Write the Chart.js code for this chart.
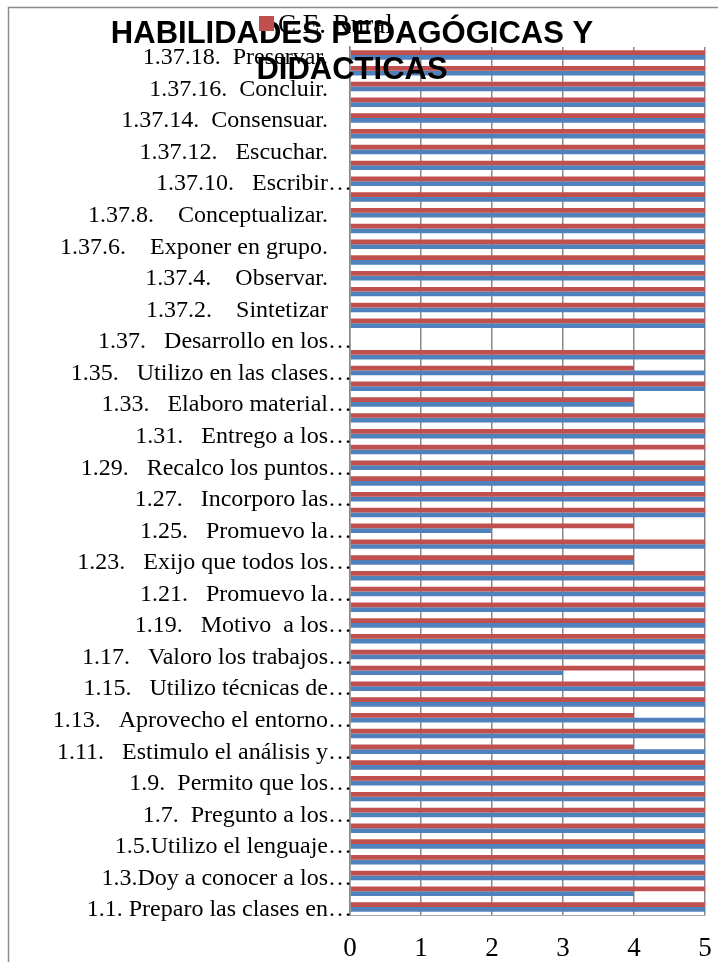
<!DOCTYPE html>
<html>
<head>
<meta charset="utf-8">
<script src="https://cdn.jsdelivr.net/npm/chart.js@4"></script>
<style>
  html, body { margin: 0; padding: 0; background: #fff; }
  #wrap { width: 718px; height: 962px; position: relative; }
</style>
</head>
<body>
<div id="wrap"><canvas id="chart"></canvas></div>
<script>
// categories, bottom (1.1) to top (1.37.18); only every other one is labelled in the chart
const categories = [
  '1.1. Preparo las clases en…', '1.2.',
  '1.3.Doy a conocer a los…', '1.4.',
  '1.5.Utilizo el lenguaje…', '1.6.',
  '1.7.  Pregunto a los…', '1.8.',
  '1.9.  Permito que los…', '1.10.',
  '1.11.   Estimulo el análisis y…', '1.12.',
  '1.13.   Aprovecho el entorno…', '1.14.',
  '1.15.   Utilizo técnicas de…', '1.16.',
  '1.17.   Valoro los trabajos…', '1.18.',
  '1.19.   Motivo  a los…', '1.20.',
  '1.21.   Promuevo la…', '1.22.',
  '1.23.   Exijo que todos los…', '1.24.',
  '1.25.   Promuevo la…', '1.26.',
  '1.27.   Incorporo las…', '1.28.',
  '1.29.   Recalco los puntos…', '1.30.',
  '1.31.   Entrego a los…', '1.32.',
  '1.33.   Elaboro material…', '1.34.',
  '1.35.   Utilizo en las clases…', '1.36.',
  '1.37.   Desarrollo en los…', '1.37.1.',
  '1.37.2.    Sintetizar', '1.37.3.',
  '1.37.4.    Observar.', '1.37.5.',
  '1.37.6.    Exponer en grupo.', '1.37.7.',
  '1.37.8.    Conceptualizar.', '1.37.9.',
  '1.37.10.   Escribir…', '1.37.11.',
  '1.37.12.   Escuchar.', '1.37.13.',
  '1.37.14.  Consensuar.', '1.37.15.',
  '1.37.16.  Concluir.', '1.37.17.',
  '1.37.18.  Preservar.'
];

const rural = [
  5, 5, 5, 5, 5, 5, 5, 5, 5, 5,
  4, 5, 4, 5, 5, 5, 5, 5, 5, 5,
  5, 5, 4, 5, 4, 5, 5, 5, 5, 5,
  5, 5, 4, 5, 4, 5, null,
  5, 5, 5, 5, 5, 5, 5, 5, 5, 5, 5, 5, 5, 5, 5, 5, 5, 5
];

const urbano = [
  5, 4, 5, 5, 5, 5, 5, 5, 5, 5,
  5, 5, 5, 5, 5, 3, 5, 5, 5, 5,
  5, 5, 4, 5, 2, 5, 5, 5, 5, 4,
  5, 5, 4, 5, 5, 5, null,
  5, 5, 5, 5, 5, 5, 5, 5, 5, 5, 5, 5, 5, 5, 5, 5, 5, 5
];

const xTicks = [0, 1, 2, 3, 4, 5];
const chartTitle = ['HABILIDADES PEDAGÓGICAS Y', 'DIDACTICAS'];

// title and legend sit on top of the plot, so they are drawn by hand
const decorPlugin = {
  id: 'decor',
  beforeDraw(chart) {
    const ctx = chart.ctx;
    ctx.save();
    ctx.strokeStyle = '#8c8c8c';
    ctx.lineWidth = 1.5;
    ctx.strokeRect(8.5, 7.5, 730, 1000);
    ctx.restore();
  },
  afterDraw(chart) {
    const ctx = chart.ctx;
    const ds = chart.data.datasets[0];
    ctx.save();
    ctx.fillStyle = '#000';
    ctx.font = 'bold 31px "Liberation Sans"';
    ctx.textAlign = 'center';
    ctx.textBaseline = 'alphabetic';
    ctx.fillText(chartTitle[0], 352, 43);
    ctx.fillText(chartTitle[1], 352, 79);

    ctx.fillStyle = ds.backgroundColor;
    ctx.fillRect(259, 16, 15, 15);
    ctx.fillStyle = '#000';
    ctx.font = '27px "Liberation Serif"';
    ctx.textAlign = 'left';
    ctx.fillText(ds.label, 278, 33);
    ctx.restore();
  }
};

const ctx = document.getElementById('chart').getContext('2d');
new Chart(ctx, {
  type: 'bar',
  data: {
    labels: categories,
    datasets: [
      {
        label: 'C.E. Rural',
        data: rural,
        backgroundColor: '#C0504D',
        categoryPercentage: 0.6,
        barPercentage: 1.0
      },
      {
        label: 'C.E. Urbano',
        data: urbano,
        backgroundColor: '#4F81BD',
        categoryPercentage: 0.6,
        barPercentage: 1.0
      }
    ]
  },
  options: {
    indexAxis: 'y',
    responsive: true,
    maintainAspectRatio: false,
    animation: false,
    layout: { padding: { top: 47, right: 13, bottom: 0, left: 0 } },
    plugins: {
      legend: { display: false },
      title: { display: false },
      tooltip: { enabled: false }
    },
    scales: {
      x: {
        min: xTicks[0],
        max: xTicks[xTicks.length - 1],
        afterBuildTicks: (scale) => { scale.ticks = xTicks.map(v => ({ value: v })); },
        afterFit: (scale) => {
          scale.height = 47;
          scale.paddingLeft = 0;
          scale.paddingRight = 0;
        },
        ticks: {
          color: '#000',
          font: { family: 'Liberation Serif', size: 27 },
          padding: 18
        },
        grid: { color: '#888', lineWidth: 1.5, drawTicks: false },
        border: { color: '#aaa', width: 1 }
      },
      y: {
        reverse: true,
        afterFit: (scale) => { scale.width = 350; },
        ticks: {
          autoSkip: false,
          color: '#000',
          padding: -2,
          labelOffset: 3,
          font: { family: 'Liberation Serif', size: 24 },
          callback: function (value, index) {
            if (index % 2) return '';
            const l = this.getLabelForValue(value);
            return l.endsWith('…') ? l : l + '    ';
          }
        },
        grid: { display: false, drawTicks: false },
        border: { color: '#888', width: 1.5 }
      }
    }
  },
  plugins: [decorPlugin]
});
</script>
</body>
</html>
